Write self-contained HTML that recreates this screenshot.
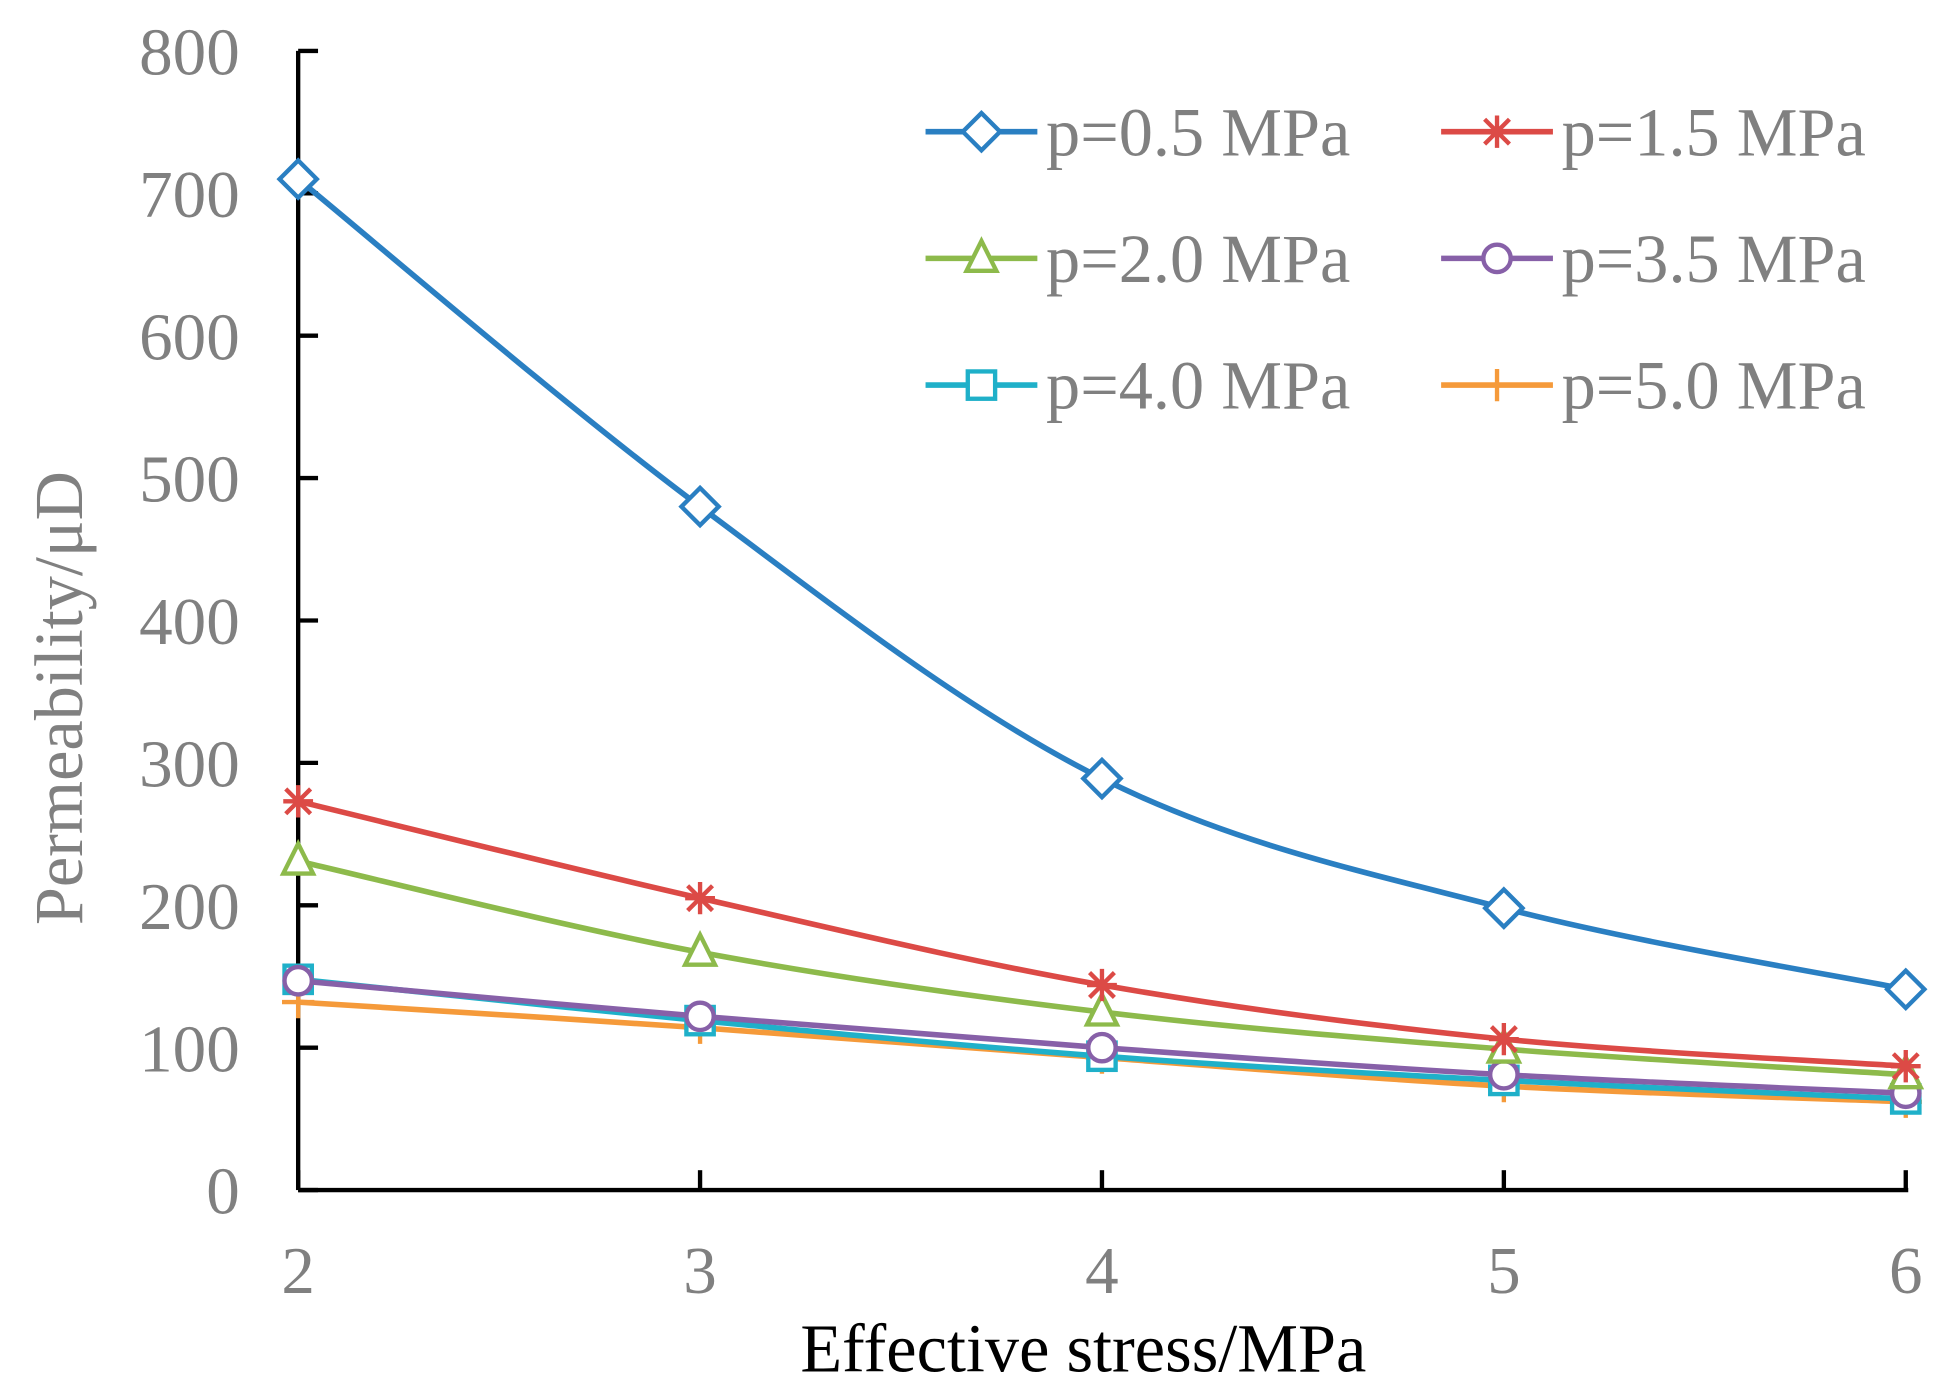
<!DOCTYPE html>
<html><head><meta charset="utf-8"><style>
html,body{margin:0;padding:0;background:#fff;}
svg{display:block;font-family:"Liberation Serif",serif;}
</style></head><body>
<svg id="chart" width="1948" height="1400" viewBox="0 0 1568 1127" preserveAspectRatio="none" xmlns="http://www.w3.org/2000/svg"></svg>
<script>
const xCats = [2, 3, 4, 5, 6];
const yTicks = [0, 100, 200, 300, 400, 500, 600, 700, 800];
const seriesNames = ["p=0.5 MPa", "p=1.5 MPa", "p=2.0 MPa", "p=3.5 MPa", "p=4.0 MPa", "p=5.0 MPa"];
const s05 = [710, 480, 289, 198, 141];
const s15 = [273, 205, 144, 106, 87];
const s20 = [231, 167, 125, 99, 81];
const s35 = [147, 122, 100, 81, 68];
const s40 = [148, 119, 94, 77, 64];
const s50 = [132, 114, 93, 73, 62];
const seriesValues = [s05, s15, s20, s35, s40, s50];
const colors = ["#2a7fc2", "#dc4a46", "#8dba4b", "#8760a8", "#1fb0c9", "#f59a3a"];
const markers = ["diamond", "star", "triangle", "circle", "square", "plus"];

const svg = document.getElementById('chart');
const NS = "http://www.w3.org/2000/svg";
const X0 = 240, X1 = 1534, Y0 = 958, Y1 = 41;
const xs = v => X0 + (v - 2) / 4 * (X1 - X0);
const ys = v => Y0 - v / 800 * (Y0 - Y1);
function mk(tag, attrs, parent) {
  const e = document.createElementNS(NS, tag);
  for (const k in attrs) e.setAttribute(k, attrs[k]);
  (parent || svg).appendChild(e);
  return e;
}
const axes = mk('g', {});


mk('line', {x1: X0, y1: Y1, x2: X0, y2: Y0, stroke: '#000', 'stroke-width': 3.5}, axes);
mk('line', {x1: X0, y1: Y0, x2: X1 + 2, y2: Y0, stroke: '#000', 'stroke-width': 3.5}, axes);
yTicks.forEach(t => {
  const y = ys(t);
  mk('line', {x1: X0, y1: y, x2: X0 + 16, y2: y, stroke: '#000', 'stroke-width': 3.5}, axes);
  const tx = mk('text', {x: 193, y: y + 19, 'text-anchor': 'end', 'font-size': 54, fill: '#808080'}, axes);
  tx.textContent = t;
  
  
});
xCats.forEach(c => {
  const x = xs(c);
  mk('line', {x1: x, y1: Y0, x2: x, y2: Y0 - 16, stroke: '#000', 'stroke-width': 3.5}, axes);
  const tx = mk('text', {x: x, y: 1041, 'text-anchor': 'middle', 'font-size': 54, fill: '#808080'}, axes);
  tx.textContent = c;
  
  
});
const xt = mk('text', {x: 872, y: 1104, 'text-anchor': 'middle', 'font-size': 55, fill: '#000'});
xt.textContent = 'Effective stress/MPa';


const yt = mk('text', {x: 0, y: 0, 'text-anchor': 'middle', 'font-size': 55, fill: '#808080', transform: 'translate(66,562) rotate(-90)'});
yt.textContent = 'Permeability/\u03bcD';



function marker(type, x, y, color, parent) {
  const a = {fill: '#fff', stroke: color, 'stroke-width': 3.5};
  if (type === 'diamond') return mk('polygon', Object.assign({points: `${x},${y-15} ${x+15},${y} ${x},${y+15} ${x-15},${y}`}, a), parent);
  if (type === 'triangle') return mk('polygon', Object.assign({points: `${x},${y-14} ${x+12},${y+10} ${x-12},${y+10}`}, a), parent);
  if (type === 'circle') return mk('circle', Object.assign({cx: x, cy: y, r: 11}, a), parent);
  if (type === 'square') return mk('rect', Object.assign({x: x-11, y: y-11, width: 22, height: 22}, a), parent);
  if (type === 'plus') return mk('path', {d: `M${x-13},${y}H${x+13}M${x},${y-13}V${y+13}`, stroke: color, 'stroke-width': 3.5, fill: 'none'}, parent);
  if (type === 'star') return mk('path', {d: `M${x-12},${y}H${x+12}M${x},${y-13}V${y+13}M${x-10},${y-10}L${x+10},${y+10}M${x-10},${y+10}L${x+10},${y-10}`, stroke: color, 'stroke-width': 3.5, fill: 'none'}, parent);
}
function smooth(pts) {
  let d = `M${pts[0][0]},${pts[0][1]}`;
  for (let i = 0; i < pts.length - 1; i++) {
    const p0 = pts[i - 1] || pts[i], p1 = pts[i], p2 = pts[i + 1], p3 = pts[i + 2] || p2;
    const t = 6;
    d += ` C${p1[0] + (p2[0] - p0[0]) / t},${p1[1] + (p2[1] - p0[1]) / t} ${p2[0] - (p3[0] - p1[0]) / t},${p2[1] - (p3[1] - p1[1]) / t} ${p2[0]},${p2[1]}`;
  }
  return d;
}
const order = [5, 4, 3, 2, 1, 0];
order.forEach(i => {
  const g = mk('g', {});
  
  
  const pts = seriesValues[i].map((v, j) => [xs(xCats[j]), ys(v)]);
  mk('path', {d: smooth(pts), fill: 'none', stroke: colors[i], 'stroke-width': 4.5}, g);
  pts.forEach(p => {
    const m = marker(markers[i], p[0], p[1], colors[i], g);
    
    
  });
});
const leg = mk('g', {});


seriesNames.forEach((n, i) => {
  const col = i % 2, row = Math.floor(i / 2);
  const lx = col ? 1160 : 745, ly = 106 + row * 102;
  const e = mk('g', {}, leg);
  
  
  mk('line', {x1: lx, y1: ly, x2: lx + 90, y2: ly, stroke: colors[i], 'stroke-width': 4.5}, e);
  marker(markers[i], lx + 45, ly, colors[i], e);
  const t = mk('text', {x: lx + 97, y: ly + 19, 'font-size': 55, fill: '#808080'}, e);
  t.textContent = n;
});
</script>
</body></html>
